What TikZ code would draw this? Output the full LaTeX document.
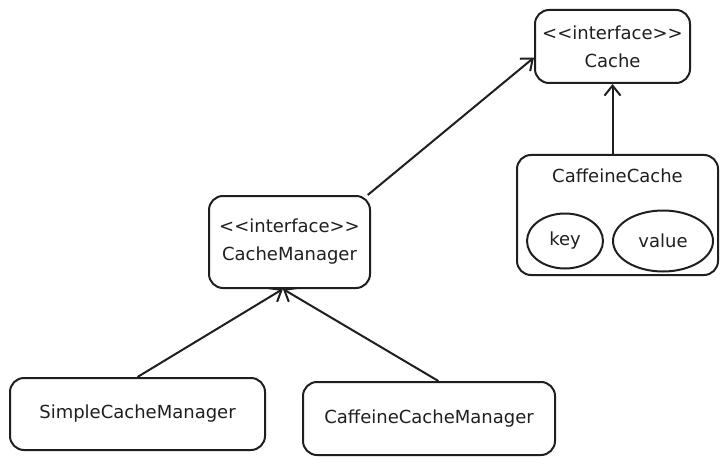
\documentclass[tikz,border=0pt]{standalone}
\usepackage{fontspec}
\setmainfont{DejaVu Sans}
\usetikzlibrary{arrows.meta,shapes.geometric}
\begin{document}
\begin{tikzpicture}[x=1pt,y=-1pt,
  every node/.style={font=\fontsize{18}{28}\selectfont, text=black!88},
  box/.style={draw=black!88, line width=2pt, rounded corners=14pt, inner sep=0pt},
  oval/.style={draw=black!88, line width=2pt, ellipse, inner sep=0pt},
  lbl/.style={inner sep=0pt},
  conn/.style={draw=black!88, line width=2pt, -{Straight Barb[length=10pt,width=16pt,line width=2pt]}}]
\useasboundingbox (0,0) rectangle (727,465);
\fill[white] (0,0) rectangle (727,465);
% Cache interface
\node[box, minimum width=155, minimum height=73, align=center] (cache) at (612.5,46.5)
  {<\kern0pt<interface>\kern0pt>\\Cache};
% CaffeineCache container
\node[box, minimum width=201, minimum height=120] (cc) at (617.5,215) {};
\node[lbl] (cctitle) at (617.5,176) {CaffeineCache};
\node[oval, minimum width=76, minimum height=55] (key) at (565,241) {key};
\node[oval, minimum width=100, minimum height=61] (value) at (663,241) {value};
% CacheManager interface
\node[box, minimum width=161, minimum height=92, align=center] (cm) at (289.5,242)
  {<\kern0pt<interface>\kern0pt>\\CacheManager};
% Implementations
\node[box, minimum width=255, minimum height=72] (scm) at (137.5,414) {SimpleCacheManager};
\node[box, minimum width=252, minimum height=73] (ccm) at (429,418.5) {CaffeineCacheManager};
% Connectors
\draw[conn] (cc.north -| cache.south) -- (cache.south);
\draw[conn] (cm.31) -- (cache.188);
\draw[conn] (scm.north) -- (cm.262);
\draw[conn] (ccm.76) -- (cm.262);
\end{tikzpicture}
\end{document}
